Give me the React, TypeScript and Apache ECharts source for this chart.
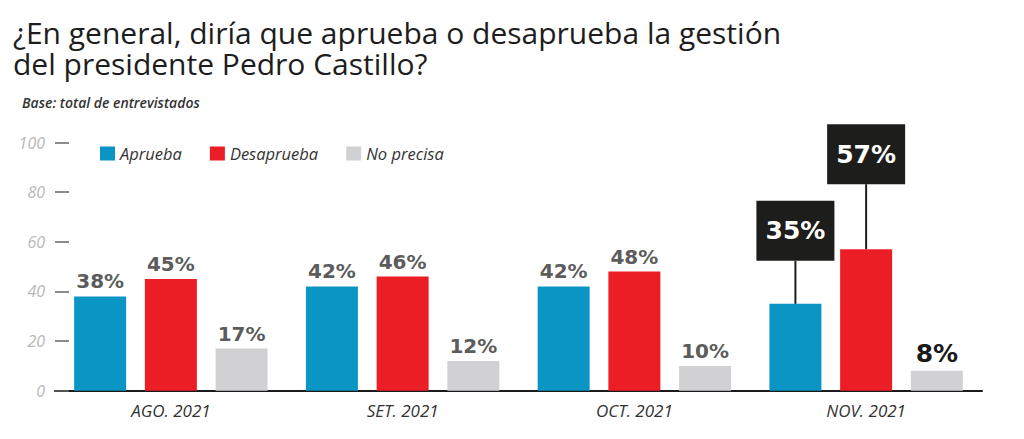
import React, { useEffect, useRef } from "react";
import * as echarts from "echarts";

// ---- data ----
const titleLines = [
  "¿En general, diría que aprueba o desaprueba la gestión",
  "del presidente Pedro Castillo?",
];
const subtitle = "Base: total de entrevistados";
const categories = ["AGO. 2021", "SET. 2021", "OCT. 2021", "NOV. 2021"];
const seriesNames = ["Aprueba", "Desaprueba", "No precisa"];
const aprueba = [38, 42, 42, 35];
const desaprueba = [45, 46, 48, 57];
const noPrecisa = [17, 12, 10, 8];
const yMin = 0;
const yMax = 100;
const yInterval = 20;
const highlightIndex = 3; // latest survey, emphasised

// ---- styles ----
const COLORS = ["#0a95c5", "#ec1e25", "#d1d1d3"];
const FONT = "'Open Sans', sans-serif";
const NUM_FONT = "'DejaVu Sans', sans-serif";
const BOX = "#1d1d1b";

function calloutLabel(stem: number) {
  return {
    show: true,
    position: "top",
    distance: 0,
    formatter: (p: any) => `{box|${p.value}%}\n{stem| }`,
    rich: {
      box: {
        backgroundColor: BOX,
        color: "#ffffff",
        fontFamily: NUM_FONT,
        fontWeight: "bold",
        fontSize: 25,
        width: 78,
        height: 60,
        lineHeight: 60,
        align: "center",
      },
      stem: {
        backgroundColor: BOX,
        width: 2,
        height: stem,
        lineHeight: stem,
        fontSize: 1,
        align: "center",
      },
    },
  };
}

function buildData(values: number[], highlight: any) {
  return values.map((v, i) =>
    i === highlightIndex ? { value: v, label: highlight } : v
  );
}

export default function App() {
  const ref = useRef<HTMLDivElement>(null);
  useEffect(() => {
    if (!ref.current) return;
    const chart = echarts.init(ref.current, undefined, { renderer: "svg" });
    const baseLabel = {
      show: true,
      position: "top",
      distance: 5,
      formatter: "{c}%",
      fontFamily: NUM_FONT,
      fontWeight: "bold",
      fontSize: 20,
      color: "#5c5c5c",
    };
    const seriesData = [
      buildData(aprueba, calloutLabel(43)),
      buildData(desaprueba, calloutLabel(65)),
      buildData(noPrecisa, {
        show: true,
        position: "top",
        distance: 5,
        formatter: "{c}%",
        fontFamily: NUM_FONT,
        fontWeight: "bold",
        fontSize: 25,
        color: "#1a1a1a",
      }),
    ];
    const titleStyle = {
      fontFamily: FONT,
      fontSize: 30,
      fontWeight: "normal",
      color: "#1d1d1d",
      lineHeight: 30,
    };
    chart.setOption({
      animation: false,
      backgroundColor: "#ffffff",
      color: COLORS,
      title: [
        {
          text: titleLines[0],
          left: 13,
          top: 17,
          padding: 0,
          textStyle: titleStyle,
        },
        {
          text: titleLines[1],
          left: 13,
          top: 48,
          padding: 0,
          textStyle: titleStyle,
        },
        {
          text: subtitle,
          left: 22,
          top: 95,
          padding: 0,
          textStyle: {
            fontFamily: FONT,
            fontSize: 14,
            fontStyle: "italic",
            fontWeight: 600,
            color: "#333333",
          },
        },
      ],
      legend: {
        left: 100,
        top: 145,
        padding: 0,
        icon: "rect",
        itemWidth: 15,
        itemHeight: 14,
        itemGap: 28,
        data: seriesNames,
        textStyle: {
          fontFamily: FONT,
          fontStyle: "italic",
          fontSize: 16.5,
          color: "#333333",
        },
      },
      grid: {
        left: 55,
        width: 927,
        top: 142.5,
        bottom: 48.3,
        containLabel: false,
      },
      xAxis: {
        type: "category",
        data: categories,
        axisLine: { show: true, lineStyle: { color: "#1a1a1a", width: 2 } },
        axisTick: { show: false },
        axisLabel: {
          fontFamily: FONT,
          fontStyle: "italic",
          fontSize: 17,
          color: "#333333",
          margin: 11,
        },
      },
      yAxis: {
        type: "value",
        min: yMin,
        max: yMax,
        interval: yInterval,
        axisLine: { show: false },
        axisTick: {
          show: true,
          inside: true,
          length: 14,
          lineStyle: { color: "#666666", width: 1.5 },
        },
        splitLine: { show: false },
        axisLabel: {
          fontFamily: FONT,
          fontStyle: "italic",
          fontSize: 16,
          color: "#b8b8b8",
          margin: 10,
        },
      },
      series: seriesNames.map((name, k) => ({
        name,
        type: "bar",
        barWidth: 52,
        barGap: "36%",
        label: baseLabel,
        data: seriesData[k],
      })),
    });
    return () => chart.dispose();
  }, []);
  return (
    <div
      ref={ref}
      style={{ position: "absolute", left: 0, top: 0, width: 1024, height: 439 }}
    />
  );
}
